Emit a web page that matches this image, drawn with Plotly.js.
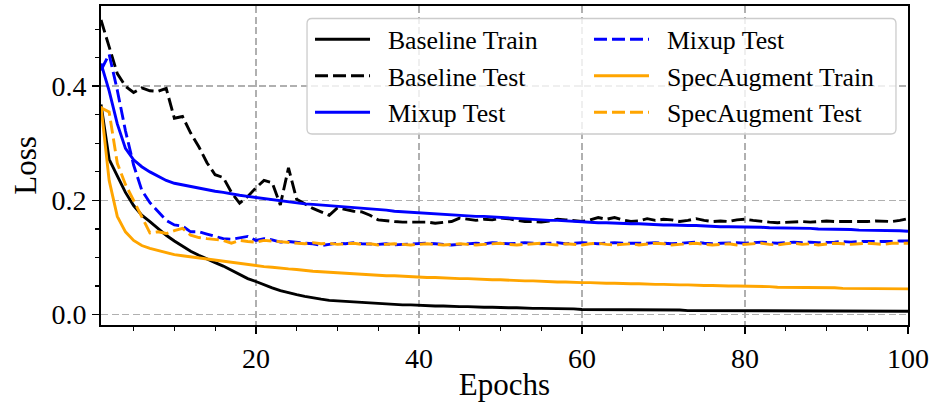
<!DOCTYPE html>
<html>
<head>
<meta charset="utf-8">
<script src="https://cdn.plot.ly/plotly-3.0.1.min.js"></script>
<style>html,body{margin:0;padding:0;background:#fff;}#chart{width:932px;height:402px;}</style>
</head>
<body>
<div id="chart"></div>
<script>
// ---- data ----
const epochs = Array.from({length: 100}, (_, i) => i + 1);

const baselineTrain = [
  0.368,0.272,0.243,0.214,0.191,0.174,0.163,0.151,0.139,0.129,
  0.120,0.111,0.104,0.097,0.091,0.085,0.078,0.071,0.063,0.058,
  0.052,0.047,0.042,0.038,0.035,0.032,0.029,0.027,0.025,0.024,
  0.023,0.022,0.021,0.020,0.019,0.018,0.018,0.017,0.017,0.016,
  0.016,0.015,0.015,0.014,0.014,0.014,0.013,0.013,0.013,0.012,
  0.012,0.012,0.011,0.011,0.011,0.011,0.010,0.010,0.010,0.009,
  0.009,0.009,0.009,0.009,0.008,0.008,0.008,0.008,0.008,0.008,
  0.008,0.008,0.007,0.007,0.007,0.007,0.007,0.007,0.007,0.007,
  0.007,0.007,0.007,0.007,0.007,0.006,0.006,0.006,0.006,0.006,
  0.006,0.006,0.006,0.006,0.006,0.006,0.006,0.006,0.006,0.006
];

const baselineTest = [
  0.516,0.468,0.422,0.400,0.389,0.397,0.392,0.391,0.396,0.344,
  0.347,0.318,0.294,0.266,0.245,0.240,0.214,0.195,0.207,0.222,
  0.235,0.231,0.192,0.257,0.202,0.194,0.186,0.180,0.174,0.187,
  0.184,0.181,0.180,0.174,0.166,0.164,0.163,0.162,0.162,0.163,
  0.162,0.160,0.161,0.163,0.169,0.167,0.165,0.167,0.166,0.169,
  0.168,0.165,0.163,0.163,0.162,0.164,0.167,0.166,0.164,0.163,
  0.166,0.170,0.167,0.170,0.166,0.163,0.164,0.168,0.165,0.167,
  0.166,0.163,0.165,0.168,0.165,0.163,0.164,0.163,0.166,0.167,
  0.165,0.163,0.162,0.161,0.162,0.163,0.163,0.162,0.163,0.164,
  0.163,0.163,0.162,0.163,0.163,0.164,0.163,0.163,0.165,0.168
];

const mixupSolid = [
  0.440,0.392,0.334,0.291,0.271,0.259,0.250,0.242,0.235,0.230,
  0.227,0.224,0.221,0.218,0.216,0.214,0.211,0.209,0.207,0.205,
  0.204,0.202,0.200,0.198,0.196,0.194,0.193,0.192,0.191,0.189,
  0.188,0.187,0.186,0.185,0.184,0.183,0.181,0.180,0.179,0.178,
  0.177,0.176,0.176,0.175,0.174,0.173,0.172,0.172,0.171,0.170,
  0.169,0.168,0.168,0.167,0.166,0.165,0.165,0.164,0.163,0.162,
  0.162,0.161,0.161,0.160,0.160,0.159,0.159,0.158,0.158,0.157,
  0.157,0.156,0.156,0.156,0.155,0.155,0.154,0.154,0.154,0.153,
  0.153,0.153,0.152,0.152,0.152,0.151,0.151,0.151,0.150,0.150,
  0.150,0.149,0.149,0.148,0.148,0.148,0.147,0.147,0.147,0.146
];

const mixupDashed = [
  0.428,0.456,0.393,0.322,0.262,0.218,0.196,0.180,0.165,0.157,
  0.155,0.145,0.145,0.141,0.137,0.133,0.132,0.135,0.137,0.130,
  0.133,0.131,0.127,0.128,0.126,0.125,0.124,0.121,0.123,0.125,
  0.124,0.126,0.124,0.123,0.123,0.124,0.122,0.123,0.124,0.124,
  0.125,0.124,0.123,0.122,0.123,0.124,0.125,0.124,0.126,0.125,
  0.124,0.125,0.126,0.125,0.124,0.125,0.126,0.124,0.125,0.126,
  0.125,0.124,0.125,0.126,0.125,0.125,0.124,0.125,0.126,0.125,
  0.124,0.125,0.126,0.127,0.125,0.124,0.125,0.126,0.126,0.125,
  0.126,0.127,0.126,0.125,0.126,0.127,0.126,0.127,0.126,0.126,
  0.127,0.128,0.127,0.128,0.128,0.127,0.128,0.128,0.129,0.129
];

const specTrain = [
  0.365,0.235,0.172,0.145,0.130,0.121,0.116,0.112,0.108,0.105,
  0.103,0.101,0.099,0.097,0.095,0.093,0.091,0.089,0.087,0.085,
  0.084,0.083,0.081,0.080,0.079,0.077,0.076,0.075,0.074,0.073,
  0.072,0.071,0.071,0.070,0.069,0.068,0.068,0.067,0.066,0.066,
  0.065,0.065,0.064,0.064,0.063,0.063,0.062,0.062,0.061,0.061,
  0.060,0.060,0.059,0.059,0.058,0.058,0.057,0.057,0.056,0.056,
  0.056,0.055,0.055,0.055,0.054,0.054,0.054,0.053,0.053,0.053,
  0.052,0.052,0.052,0.051,0.051,0.051,0.050,0.050,0.050,0.050,
  0.049,0.049,0.049,0.048,0.048,0.048,0.048,0.047,0.047,0.047,
  0.047,0.046,0.046,0.046,0.046,0.045,0.045,0.045,0.045,0.045
];

const specTest = [
  0.362,0.355,0.265,0.228,0.200,0.172,0.143,0.145,0.142,0.147,
  0.151,0.139,0.135,0.133,0.131,0.130,0.125,0.130,0.128,0.127,
  0.130,0.129,0.127,0.126,0.125,0.124,0.126,0.124,0.125,0.123,
  0.124,0.125,0.123,0.124,0.122,0.123,0.124,0.123,0.122,0.123,
  0.124,0.123,0.122,0.123,0.124,0.123,0.122,0.123,0.124,0.125,
  0.123,0.122,0.123,0.124,0.125,0.123,0.122,0.124,0.123,0.122,
  0.124,0.125,0.123,0.122,0.123,0.124,0.122,0.123,0.125,0.124,
  0.122,0.123,0.124,0.125,0.123,0.122,0.123,0.124,0.122,0.123,
  0.124,0.125,0.123,0.122,0.124,0.125,0.123,0.124,0.122,0.123,
  0.125,0.124,0.123,0.124,0.125,0.124,0.123,0.125,0.125,0.125
];

const seriesNames = ['Baseline Train', 'Baseline Test', 'Mixup Test', 'Mixup Test', 'SpecAugment Train', 'SpecAugment Test'];
const xTickVals = [20, 40, 60, 80, 100];
const yTickVals = [0.0, 0.2, 0.4];
const yTickText = ['0.0', '0.2', '0.4'];

// ---- styles ----
const FONT = 'Liberation Serif, Times New Roman, serif';
const LW = 2.9;
const DASH = '13px,5px';
const NB = '\u00A0\u00A0';
const styles = [
  {color: '#000000', dash: 'solid', legend: 'legend'},
  {color: '#000000', dash: DASH, legend: 'legend'},
  {color: '#0000ff', dash: 'solid', legend: 'legend'},
  {color: '#0000ff', dash: DASH, legend: 'legend2'},
  {color: '#ffa500', dash: 'solid', legend: 'legend2'},
  {color: '#ffa500', dash: DASH, legend: 'legend2'}
];
const values = [baselineTrain, baselineTest, mixupSolid, mixupDashed, specTrain, specTest];

const traces = values.map((v, i) => ({
  x: epochs, y: v, type: 'scatter', mode: 'lines',
  name: NB + seriesNames[i],
  legend: styles[i].legend,
  line: {color: styles[i].color, width: LW, dash: styles[i].dash},
  hoverinfo: 'skip'
}));

// legend frame (rounded box) in paper coordinates
const bx0 = 0.2553, bx1 = 0.9851, by0 = 0.5987, by1 = 0.9608, rx = 0.0062, ry = 0.0157;
const boxPath = `M${bx0+rx},${by1} L${bx1-rx},${by1} Q${bx1},${by1} ${bx1},${by1-ry} ` +
  `L${bx1},${by0+ry} Q${bx1},${by0} ${bx1-rx},${by0} L${bx0+rx},${by0} ` +
  `Q${bx0},${by0} ${bx0},${by0+ry} L${bx0},${by1-ry} Q${bx0},${by1} ${bx0+rx},${by1} Z`;

const gridStyle = {showgrid: true, gridcolor: '#b0b0b0', gridwidth: 1.5, griddash: '7px,3.5px'};

const legendBase = {
  orientation: 'v', y: 0.9688, xanchor: 'left', yanchor: 'top',
  bgcolor: 'rgba(0,0,0,0)', borderwidth: 0,
  font: {family: FONT, size: 25.8, color: '#000000'},
  itemwidth: 55, traceorder: 'normal', itemclick: false, itemdoubleclick: false
};

const layout = {
  width: 932, height: 402,
  margin: {l: 101, r: 24, t: 6, b: 77, pad: 0},
  paper_bgcolor: '#ffffff', plot_bgcolor: '#ffffff',
  font: {family: FONT, color: '#000000', size: 28},
  showlegend: true,
  legend: Object.assign({x: 0.259}, legendBase),
  legend2: Object.assign({x: 0.6047}, legendBase),
  xaxis: Object.assign({
    range: [1, 100], tickmode: 'array', tickvals: xTickVals, ticktext: xTickVals.map(String),
    ticks: 'outside', ticklen: 7, tickwidth: 1.5, tickcolor: '#000',
    minor: {dtick: 5, tick0: 0, ticks: 'outside', ticklen: 4, tickwidth: 1.2, tickcolor: '#000', showgrid: false},
    showline: true, linecolor: '#000', linewidth: 2, mirror: true, zeroline: false,
    tickfont: {family: FONT, size: 28},
    title: {text: 'Epochs', font: {family: FONT, size: 31}, standoff: 4}
  }, gridStyle),
  yaxis: Object.assign({
    range: [-0.0182, 0.5405], tickmode: 'array', tickvals: yTickVals, ticktext: yTickText,
    ticks: 'outside', ticklen: 7, tickwidth: 1.5, tickcolor: '#000',
    minor: {dtick: 0.05, tick0: 0, ticks: 'outside', ticklen: 4, tickwidth: 1.2, tickcolor: '#000', showgrid: false},
    showline: true, linecolor: '#000', linewidth: 2, mirror: true, zeroline: false,
    tickfont: {family: FONT, size: 28},
    title: {text: 'Loss', font: {family: FONT, size: 31}, standoff: 6}
  }, gridStyle),
  shapes: [{
    type: 'path', xref: 'paper', yref: 'paper', path: boxPath, layer: 'above',
    line: {color: '#cccccc', width: 1.3}, fillcolor: 'rgba(255,255,255,0.8)'
  }]
};

Plotly.newPlot('chart', traces, layout, {displayModeBar: false, staticPlot: true});
</script>
</body>
</html>
